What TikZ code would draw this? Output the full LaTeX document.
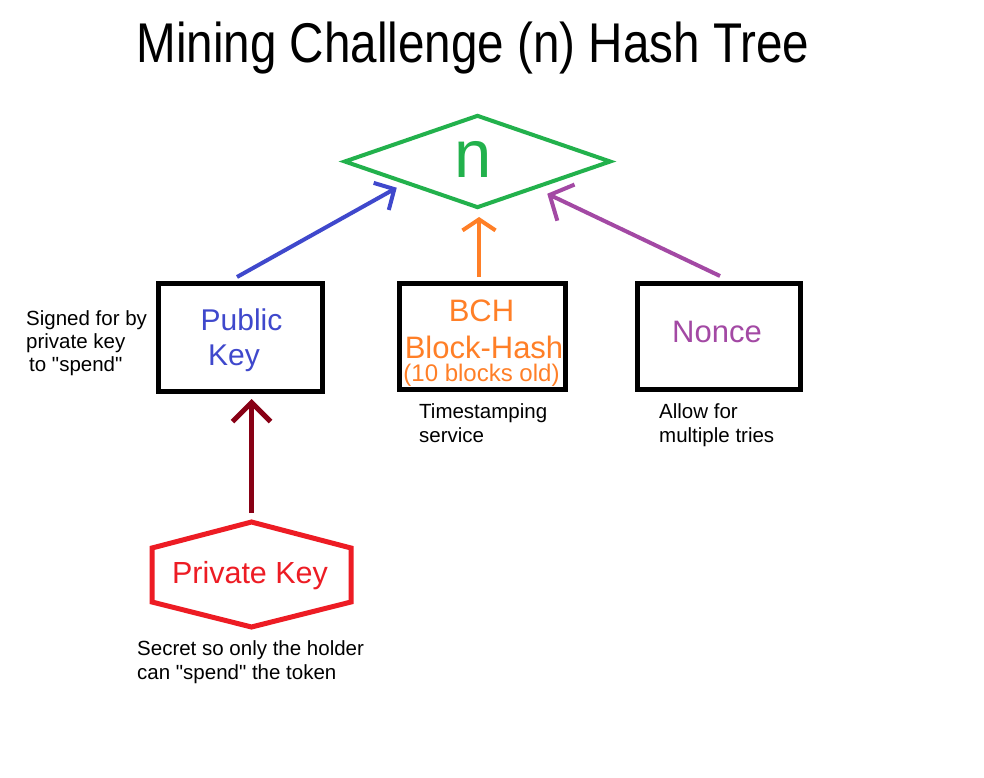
\documentclass[tikz,border=0pt]{standalone}
\usepackage{fontspec}
\usepackage{graphicx}
\setmainfont{Liberation Sans}[Ligatures=TeXOff]
\usetikzlibrary{shapes.geometric,arrows.meta}
\definecolor{pgreen}{HTML}{22B14C}
\definecolor{pblue}{HTML}{3F48CC}
\definecolor{porange}{HTML}{FF7F27}
\definecolor{ppurple}{HTML}{A349A4}
\definecolor{pred}{HTML}{ED1C24}
\definecolor{pdarkred}{HTML}{880015}
\newcommand\fsz[1]{\fontsize{#1}{#1}\selectfont}
\begin{document}
\begin{tikzpicture}[x=1pt,y=-1pt,
  fs/.style={font=\fsz{#1}},
  txt/.style={inner sep=0pt, anchor=base},
  note/.style={inner sep=0pt, anchor=base west, font=\fsz{20.5}},
  box/.style={draw=black, line width=5pt, inner sep=0pt},
  link/.style={line width=4pt}]
\useasboundingbox[fill=white] (0,0) rectangle (984,778);

% title
\node[txt, fs=56] (title) at (473,62.7) {\scalebox{0.85}[1]{Mining Challenge (n) Hash Tree}};

% diamond n
\node[diamond, draw=pgreen, line width=4pt, minimum width=267pt, minimum height=93pt, inner sep=0pt] (n) at (477.5,161.5) {};
\node[txt, text=pgreen, fs=67] (nlabel) at (473,178) {n};

% boxes
\node[box, minimum width=164pt, minimum height=108pt] (pk) at (240.5,337.5) {};
\node[box, minimum width=166pt, minimum height=106pt] (bch) at (482.5,336.5) {};
\node[box, minimum width=163pt, minimum height=106pt] (nonce) at (719,336.5) {};

\node[txt, text=pblue, fs=30] (pkt1) at (241.5,330) {Public};
\node[txt, text=pblue, fs=30] (pkt2) at (234,365) {Key};
\node[txt, text=porange, fs=31] (bt1) at (481.5,321.7) {BCH};
\node[txt, text=porange, fs=31] (bt2) at (484,358) {Block-Hash};
\node[txt, text=porange, fs=24] (bt3) at (481.5,381) {(10 blocks old)};
\node[txt, text=ppurple, fs=31] (nt) at (717,342) {Nonce};

% hexagon
\node[minimum width=199pt, minimum height=105pt, inner sep=0pt, outer sep=0pt] (hex) at (251.5,574.5) {};
\draw[pred, line width=5pt] (hex.north) -- ([yshift=-26pt]hex.north west) -- ([yshift=25pt]hex.south west) -- (hex.south) -- ([yshift=25pt]hex.south east) -- ([yshift=-26pt]hex.north east) -- cycle;
\node[txt, text=pred, fs=30.5] (hkt) at (250,583) {Private Key};

% connectors
\draw[link, pblue, -{Straight Barb[length=15pt,width=31pt]}] ([shift={(-3.5,-4)}]pk.north) -- ([shift={(-13,2)}]n.south west);
\draw[link, porange, -{Straight Barb[length=11pt,width=33pt]}] ([shift={(-3.5,-4)}]bch.north) -- ([shift={(1.5,7)}]n.south);
\draw[link, ppurple, -{Straight Barb[length=18pt,width=40pt]}] ([shift={(1,-5)}]nonce.north) -- ([shift={(2,8)}]n.south east);
\draw[link, pdarkred, line width=5pt, -{Straight Barb[length=19pt,width=38pt]}] ([yshift=9pt]hex.north) -- ([yshift=-5pt]hex.north |- pk.south);

% notes
\node[note] (s1) at (26,325) {Signed for by};
\node[note] (s2) at (26,348) {private key};
\node[note] (s3) at (29,371) {to "spend"};
\node[note] (t1) at (419,418) {Timestamping};
\node[note] (t2) at (419,442) {service};
\node[note] (a1) at (659,418) {Allow for};
\node[note] (a2) at (659,442) {multiple tries};
\node[note] (c1) at (137,655) {Secret so only the holder};
\node[note] (c2) at (137,679) {can "spend" the token};
\end{tikzpicture}
\end{document}
